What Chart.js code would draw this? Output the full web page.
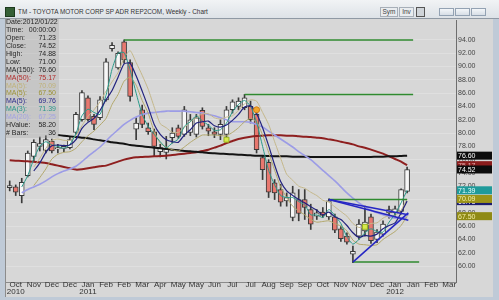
<!DOCTYPE html>
<html>
<head>
<meta charset="utf-8">
<title>TM Weekly Chart</title>
<script src="https://cdn.jsdelivr.net/npm/chart.js"></script>
<style>
  html, body { margin: 0; padding: 0; }
  body { width: 499px; height: 300px; overflow: hidden; background: #bfcad7; font-family: "Liberation Sans", Arial, sans-serif; }
  #win { position: relative; width: 499px; height: 300px; }
  #bar { position: absolute; left: 0; top: 0; width: 499px; height: 19px; box-sizing: border-box;
         background: linear-gradient(#f1f3f5, #dde2e7); border-bottom: 1px solid #8f99a4; }
  #icon { position: absolute; left: 5px; top: 7px; width: 8px; height: 8px; background: #355f35; border: 1px solid #1d3a1d; }
  #ttl { position: absolute; left: 18px; top: 8px; font-size: 6.4px; color: #333; white-space: nowrap; }
  .btn { position: absolute; top: 7px; height: 10px; box-sizing: border-box; border: 1px solid #a7afb8;
         background: #e9ecef; font-size: 6.5px; line-height: 8px; text-align: center; color: #444; }
  .wb { position: absolute; top: 8px; width: 15px; height: 8px; box-sizing: border-box; border: 1px solid #93a2b3;
        background: linear-gradient(#f3f6f9, #d7dee6); }
  #plot { position: absolute; left: 5px; top: 19px; width: 488px; height: 278px; box-sizing: border-box;
          background: #d7d7d7; border-left: 1px solid #8c8c8c; }
  canvas { position: absolute; left: 0; top: 0; }
  #info { position: absolute; left: 5px; top: 18px; width: 54px; height: 120px; box-sizing: border-box;
          padding: 0 3px 0 1px; background: rgba(165,165,165,0.35); font-size: 7px; line-height: 7.93px; color: #262626; }
  #info div { display: flex; justify-content: space-between; white-space: nowrap; }
</style>
</head>
<body>
<div id="win">
  <div id="bar">
    <div id="icon"></div>
    <span id="ttl">TM - TOYOTA MOTOR CORP SP ADR REP2COM, Weekly - Chart</span>
    <span class="btn" style="left:380px;width:18px">Sym</span>
    <span class="btn" style="left:399px;width:15px">Inv</span>
    <span class="btn" style="left:416px;width:9px;background:#cfd4d9;border-color:#555"></span>
    <span class="wb" style="left:439px"></span>
    <span class="wb" style="left:455px"></span>
    <span class="wb" style="left:471px"></span>
  </div>
  <div id="plot"></div>
  <canvas id="chart" width="499" height="300"></canvas>
  <div id="info">
    <div><span>Date:2012/01/22</span></div>
    <div><span>Time:</span><span>00:00:00</span></div>
    <div><span>Open:</span><span>71.23</span></div>
    <div><span>Close:</span><span>74.52</span></div>
    <div><span>High:</span><span>74.88</span></div>
    <div><span>Low:</span><span>71.00</span></div>
    <div><span>MA(150):</span><span>76.60</span></div>
    <div style="color:#b02a2a"><span>MA(50):</span><span>75.17</span></div>
    <div style="color:#bfb27a"><span>MA(5):</span><span>70.09</span></div>
    <div style="color:#9c9236"><span>MA(5):</span><span>67.50</span></div>
    <div style="color:#2c2c8c"><span>MA(5):</span><span>69.76</span></div>
    <div style="color:#2a968a"><span>MA(3):</span><span>71.39</span></div>
    <div style="color:#a3a3e2"><span>MA(20):</span><span>67.25</span></div>
    <div><span>HValue:</span><span>58.20</span></div>
    <div><span># Bars:</span><span>36</span></div>
  </div>
</div>
<script>
// weekly candles, Oct 2010 - Jan 2012
const opens  = [71.8,71.9,70.6,73.6,76.5,78.0,77.4,78.8,77.6,77.7,77.8,80.1,82.0,85.3,82.5,82.3,85.0,92.7,89.8,93.7,90.6,80.6,83.5,80.8,80.2,77.2,77.1,79.3,80.8,79.8,80.1,79.8,83.4,80.8,80.2,79.8,79.8,83.5,84.0,83.8,84.0,82.8,76.3,75.6,72.5,71.5,69.8,67.3,70.0,70.0,68.5,67.5,68.1,67.4,67.4,65.6,64.5,61.8,64.5,65.3,67.4,64.0,64.8,68.0,68.0,68.2,71.23];
const highs  = [72.8,72.2,73.2,77.3,79.0,79.4,79.6,79.1,78.3,78.2,79.4,83.1,86.4,85.6,82.8,85.5,91.2,93.6,92.2,94.0,91.0,82.3,84.2,81.5,80.6,78.3,79.5,80.8,81.2,84.0,82.8,82.8,83.8,81.3,80.8,82.0,84.0,85.0,85.3,85.8,84.8,83.2,76.5,76.0,73.0,72.3,71.0,72.0,71.5,71.5,69.3,68.5,68.8,70.1,67.8,66.0,65.0,63.0,67.0,69.0,67.8,65.5,66.8,69.0,69.0,71.6,74.88];
const lows   = [71.3,70.6,69.5,73.4,75.8,77.3,77.0,77.0,77.0,77.2,77.6,79.8,81.8,81.8,80.5,82.0,84.8,92.3,89.6,90.5,84.8,79.0,80.8,79.8,76.5,76.4,76.1,78.5,79.2,79.5,79.6,79.4,80.6,79.6,79.3,79.0,79.4,83.0,83.5,83.5,81.5,77.0,73.0,70.3,70.0,69.0,69.0,66.8,66.8,67.0,65.5,67.0,67.3,67.0,65.0,63.7,63.3,60.5,64.0,64.5,63.4,63.5,64.5,67.2,67.4,67.8,71.0];
const closes = [72.1,71.1,72.6,77.0,78.6,78.4,79.0,77.3,77.8,78.0,79.0,82.8,86.1,82.0,81.3,85.0,90.7,93.2,92.0,91.0,85.5,81.5,81.3,80.2,78.0,77.8,77.7,80.0,79.5,83.5,82.0,82.3,81.0,80.3,79.8,81.3,83.5,84.7,84.8,85.3,82.0,77.5,74.5,71.1,71.0,69.6,70.3,71.0,67.9,68.8,66.3,68.0,67.6,69.8,65.4,64.1,63.6,62.2,66.3,66.6,63.8,65.1,66.3,68.5,68.6,71.5,74.52];

// moving averages
const ma150 = [null,null,null,null,null,null,null,null,79.7,79.6,79.5,79.4,79.3,79.2,79.05,78.9,78.8,78.6,78.5,78.4,78.2,78.1,78.0,77.9,77.8,77.7,77.6,77.5,77.4,77.3,77.25,77.2,77.1,77.0,76.95,76.9,76.85,76.8,76.75,76.7,76.65,76.6,76.6,76.55,76.5,76.5,76.5,76.45,76.45,76.45,76.4,76.4,76.4,76.4,76.4,76.4,76.4,76.4,76.4,76.4,76.4,76.45,76.45,76.5,76.5,76.55,76.6];
const ma50  = [75.9,75.85,75.8,75.75,75.7,75.6,75.5,75.3,75.1,74.9,74.7,74.5,74.55,74.7,74.85,75.0,75.1,75.4,75.7,76.0,76.2,76.35,76.4,76.45,76.5,76.55,76.6,76.7,76.8,76.9,77.0,77.1,77.3,77.5,77.8,78.1,78.5,78.8,79.1,79.3,79.45,79.55,79.6,79.65,79.65,79.65,79.6,79.6,79.5,79.45,79.4,79.3,79.2,79.05,78.9,78.7,78.5,78.3,78.0,77.8,77.5,77.2,76.9,76.5,76.1,75.7,75.17];
const ma20  = [null,null,71.0,71.5,71.9,72.3,72.8,73.4,73.9,74.3,74.6,75.0,75.7,76.5,77.2,77.9,78.8,79.7,80.5,81.3,81.9,82.4,82.8,83.0,83.1,83.2,83.3,83.3,83.3,83.3,83.2,83.1,83.0,82.8,82.6,82.3,82.0,81.7,81.7,81.7,81.6,81.3,80.9,80.3,79.7,79.1,78.5,77.9,77.2,76.6,76.0,75.2,74.4,73.6,72.8,71.9,71.0,70.2,69.5,68.9,68.4,68.0,67.7,67.4,67.2,67.2,67.25];
const ma3   = [null,null,71.9,73.6,76.1,78.0,78.7,78.2,78.0,77.7,78.3,79.9,82.6,83.6,83.1,82.8,85.7,89.6,92.0,92.1,89.5,86.0,82.8,81.0,79.8,78.7,77.8,78.5,79.1,81.0,81.7,82.6,81.8,81.2,80.4,80.5,81.5,83.2,84.3,84.9,84.0,81.6,78.0,74.4,72.2,70.6,70.3,70.3,69.7,69.2,67.7,67.7,67.3,68.5,67.6,66.4,64.4,63.3,64.0,65.0,65.6,65.2,65.1,66.6,67.8,69.5,71.39];
const ma5   = [null,null,null,null,74.3,75.5,77.1,78.1,78.2,78.1,78.2,79.0,80.7,81.6,82.2,83.4,85.0,86.4,88.4,90.4,90.5,88.6,86.3,83.9,81.3,79.8,79.0,78.7,78.6,79.7,80.5,81.5,81.7,81.8,81.1,80.9,81.2,81.9,82.8,83.9,84.1,82.9,80.8,78.1,75.2,72.7,71.3,70.6,70.0,69.5,68.9,68.4,67.7,68.1,67.4,67.0,66.1,65.0,64.3,64.6,64.5,64.8,65.6,66.1,66.5,68.0,69.76];
const ma5hi = [null,null,null,null,74.9,76.2,77.7,78.9,79.1,78.9,78.9,79.6,81.1,82.5,83.5,84.7,86.3,87.7,89.1,91.3,92.4,90.6,88.7,86.6,83.9,81.4,80.8,80.1,80.1,80.8,81.7,82.3,82.9,82.9,82.3,82.1,82.4,82.6,83.4,84.4,85.0,84.8,83.1,81.3,78.7,76.2,73.8,72.9,72.0,71.7,71.1,70.6,69.9,69.6,68.9,68.2,67.5,66.4,65.8,66.0,66.4,66.5,67.2,67.6,67.6,68.4,70.09];
const ma5lo = [null,null,null,null,72.1,73.3,74.6,76.1,76.8,77.1,77.2,77.7,78.7,79.6,80.3,81.2,82.2,84.3,85.8,87.8,88.4,87.2,84.9,83.0,80.2,78.5,77.9,77.5,77.3,77.9,78.6,79.2,79.7,79.7,79.7,79.6,79.6,80.1,80.8,81.7,82.2,81.7,79.7,77.1,74.4,71.9,70.3,69.0,68.3,67.7,67.0,66.6,66.7,66.8,66.4,66.0,65.3,63.9,63.3,63.2,63.1,63.2,64.0,64.6,65.2,66.1,67.50];

// drawn levels: [from bar, to bar, price]
const greenLevels = [[19, 67, 94.0], [39, 67, 85.8], [53, 66, 70.0], [57, 68, 60.6]];
// triangle: [from bar, from price, to bar, to price]
const blueLines = [[53, 70.0, 66.2, 67.7], [53, 70.0, 66.2, 66.9], [57, 60.6, 66.2, 68.0]];
// signal markers
const squareMarks = [[36, 79.0], [59, 65.9]];
const circleMarks = [[41, 83.5]];

// axis ticks
const tickIdx   = [1,4,7,10,13,16,19,22,25,28,31,34,37,40,43,46,49,52,55,58,61,64,67,70,73];
const tickMonth = ['Oct','Nov','Dec','Dec','Jan','Feb','Feb','Mar','Apr','May','May','Jun','Jul','Jul','Aug','Sep','Sep','Oct','Nov','Nov','Dec','Jan','Jan','Feb','Mar'];
const tickYear  = ['2010','','','','2011','','','','','','','','','','','','','','','','','2012','','',''];
const yTicks = [60,62,64,66,68,70,72,74,76,78,80,82,84,86,88,90,92,94];

// price tags on the right axis
const tagValues = [75.17, 76.60, 74.52, 69.76, 70.09, 71.39, 67.50];
const tagBg     = ['#8a1c1c', '#0c0c0c', '#0c0c0c', '#1c1c6e', '#9c9418', '#1f9a9a', '#8f8a14'];
const tagFg     = ['#e8b0b0', '#ffffff', '#ffffff', '#ffffff', '#f4f0a8', '#e8ffff', '#f4f0a8'];

const font = '"Liberation Sans", Arial, sans-serif';
Chart.defaults.font.family = font;

const idx = closes.map((c, i) => i);
const pts = arr => arr.map((v, i) => ({ x: i, y: v })).filter(p => p.y !== null);
const lineDs = (label, arr, color, width, order) => ({
  type: 'line', label, data: pts(arr), borderColor: color, borderWidth: width,
  pointRadius: 0, tension: 0.2, order
});

const datasets = [];
greenLevels.forEach(g => datasets.push({
  type: 'line', data: [{ x: g[0], y: g[2] }, { x: g[1], y: g[2] }],
  borderColor: '#2f8a2f', borderWidth: 1.5, pointRadius: 0, order: 2
}));
blueLines.forEach(b => datasets.push({
  type: 'line', data: [{ x: b[0], y: b[1] }, { x: b[2], y: b[3] }],
  borderColor: '#2626c4', borderWidth: 1.6, pointRadius: 0, order: 1
}));
datasets.push(
  lineDs('MA(150)', ma150, '#131313', 2, 6),
  lineDs('MA(50)', ma50, '#8e1f1f', 2, 6),
  lineDs('MA(20)', ma20, '#9c9ce6', 1.6, 5),
  lineDs('MA(5) hi', ma5hi, '#c4b78a', 1, 4),
  lineDs('MA(5) lo', ma5lo, '#b2a76a', 1, 4),
  lineDs('MA(5)', ma5, '#22227e', 1.2, 3),
  lineDs('MA(3)', ma3, '#2a9a8a', 1, 3),
  {
    type: 'line', data: squareMarks.map(m => ({ x: m[0], y: m[1] })), showLine: false,
    pointStyle: 'rect', pointRadius: 3.5, backgroundColor: '#d6ea4c', borderColor: '#98b01e', borderWidth: 1, order: 0
  },
  {
    type: 'line', data: circleMarks.map(m => ({ x: m[0], y: m[1] })), showLine: false,
    pointStyle: 'circle', pointRadius: 3, backgroundColor: '#f3a62c', borderColor: '#d07d10', borderWidth: 1, order: 0
  },
  {
    type: 'bar', label: 'body', data: idx.map(i => ({ x: i, y: [opens[i], closes[i]] })),
    backgroundColor: idx.map(i => closes[i] >= opens[i] ? '#f7f7f7' : '#e8786f'),
    borderColor: '#3a3a3a', borderWidth: 1, borderSkipped: false,
    barThickness: 5, grouped: false, order: 20
  },
  {
    type: 'bar', label: 'wick', data: idx.map(i => ({ x: i, y: [lows[i], highs[i]] })),
    backgroundColor: '#3a3a3a', barThickness: 1, grouped: false, order: 21
  }
);

const tagPlugin = {
  id: 'tags',
  afterDatasetsDraw(chart) {
    const { ctx, chartArea, scales: { y } } = chart;
    ctx.save();
    ctx.font = '7px ' + font;
    ctx.textBaseline = 'middle';
    tagValues.forEach((v, k) => {
      const py = y.getPixelForValue(v);
      ctx.fillStyle = tagBg[k];
      ctx.fillRect(chartArea.right + 1, py - 4, 35, 8);
      ctx.fillStyle = tagFg[k];
      ctx.fillText(v.toFixed(2), chartArea.right + 2, py + 0.5);
    });
    ctx.restore();
  }
};

new Chart(document.getElementById('chart'), {
  type: 'bar',
  data: { datasets },
  options: {
    responsive: false,
    animation: false,
    layout: { padding: { left: 6, right: 6, top: 20, bottom: 4 } },
    plugins: { legend: { display: false }, tooltip: { enabled: false } },
    scales: {
      x: {
        type: 'linear', min: -0.614, max: 74.12, offset: false,
        afterBuildTicks: s => { s.ticks = tickIdx.map(v => ({ value: v })); },
        afterFit: s => { s.height = 14; },
        ticks: {
          autoSkip: false, maxRotation: 0, padding: 0, color: '#333',
          font: { size: 8, lineHeight: 0.8 },
          callback: (v, k) => tickYear[k] ? [tickMonth[k], tickYear[k]] : tickMonth[k]
        },
        grid: { display: false, drawTicks: false },
        border: { display: true, color: '#8a8a8a' }
      },
      y: {
        position: 'right', min: 57.6, max: 97.0,
        afterBuildTicks: s => { s.ticks = yTicks.map(v => ({ value: v })); },
        afterFit: s => { s.width = 37; },
        ticks: { color: '#444', padding: 2, font: { size: 7 }, callback: v => v.toFixed(2) },
        grid: { color: 'rgba(255,255,255,0.22)', drawTicks: false },
        border: { display: true, color: '#6e6e6e' }
      }
    }
  },
  plugins: [tagPlugin]
});
</script>
</body>
</html>
